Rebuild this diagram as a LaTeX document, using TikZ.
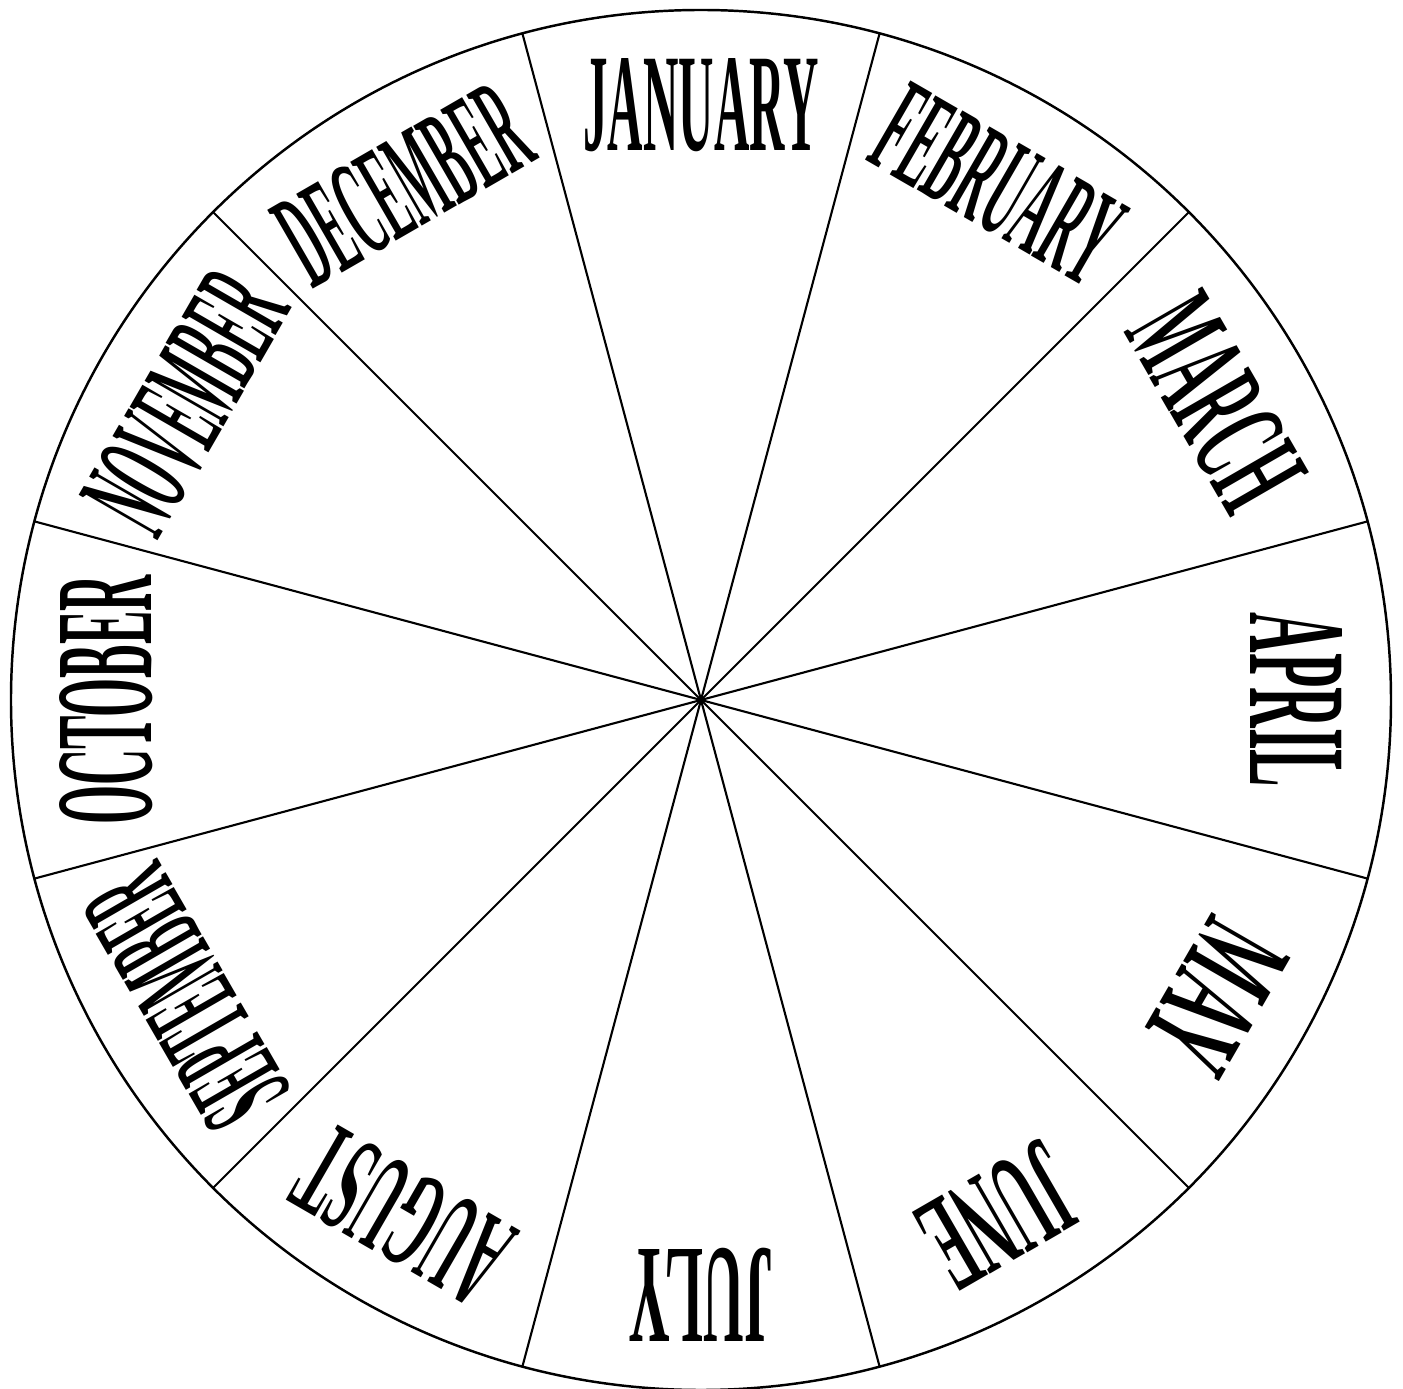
\documentclass[tikz,border=0pt]{standalone}
\usepackage{fontspec}
\setmainfont{Liberation Serif}
\usepackage{tikz}

\begin{document}
\begin{tikzpicture}
				\useasboundingbox (-7.01,-6.89) rectangle (7.02,7.00);
				\coordinate (c) at (0,0);
				\draw[line width=0.7pt] (c) circle (6.9);
				
				% spokes between the months
				\foreach \a in {15,45,...,345}
					\draw[line width=0.6pt] (c) -- (\a:6.9);
				
				% month names (name/width), read from the rim
				\foreach \m/\w [count=\i from 0] in {JANUARY/2.35, FEBRUARY/2.56, MARCH/2.16, APRIL/1.75, MAY/1.45, JUNE/1.55, JULY/1.45, AUGUST/2.2, SEPTEMBER/2.7, OCTOBER/2.5, NOVEMBER/2.7, DECEMBER/2.62}
					\node[rotate=-30*\i, inner sep=0, font=\bfseries\fontsize{39}{42}\selectfont] (m\i) at ({90-30*\i}:5.95) {\resizebox{\w cm}{0.92cm}{\m}};
\end{tikzpicture}
\end{document}
